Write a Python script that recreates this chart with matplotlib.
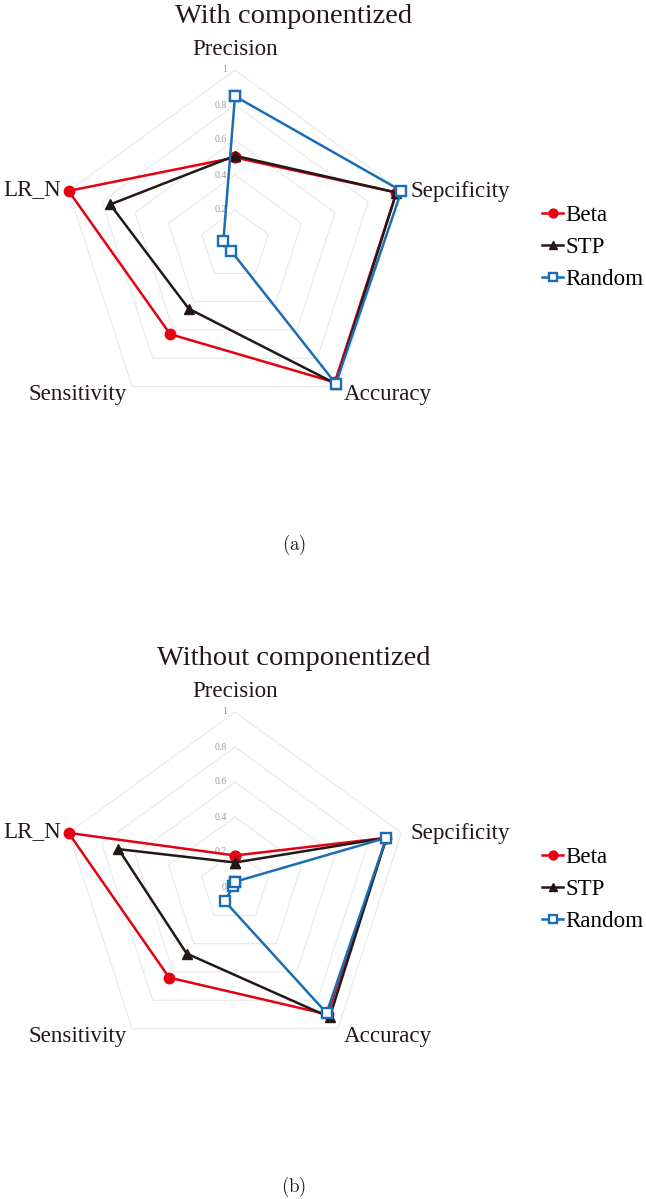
# Radar charts: with / without componentized
import numpy as np
import matplotlib
matplotlib.use('Agg')
import matplotlib.pyplot as plt

plt.rcParams['font.family'] = ['Liberation Serif', 'DejaVu Serif']
plt.rcParams['mathtext.fontset'] = 'cm'

# Data
categories = ['Precision', 'Sepcificity', 'Accuracy', 'Sensitivity', 'LR_N']
series_names = ['Beta', 'STP', 'Random']
levels = [0.2, 0.4, 0.6, 0.8, 1.0]
level_labels = ['0', '0.2', '0.4', '0.6', '0.8', '1']

with_beta = [0.50, 0.97, 0.97, 0.63, 1.00]
with_stp = [0.51, 0.97, 0.98, 0.45, 0.75]
with_random = [0.85, 1.00, 0.98, 0.04, 0.07]

without_beta = [0.18, 0.91, 0.90, 0.64, 1.00]
without_stp = [0.14, 0.91, 0.92, 0.47, 0.70]
without_random = [0.03, 0.91, 0.89, 0.10, 0.01]

titles = ['With componentized', 'Without componentized']
captions = ['(a)', '(b)']

W, H = 646, 1199
colors = ['#e50012', '#231815', '#1b6db5']
markers = ['o', '^', 's']

# label offsets (pixels) from each axis end
label_offsets = {
    'Precision': ((0, 15), 'center'),
    'Sepcificity': ((9, -6), 'left'),
    'Accuracy': ((6, -13), 'left'),
    'Sensitivity': ((-5, -13), 'right'),
    'LR_N': ((-8, -4), 'right'),
}


def radar(fig, y0, title, caption, data):
    cx, cy, rad = 235, 245 + y0, 175
    ax = fig.add_axes([(cx - rad) / W, 1 - (cy + rad) / H, 2 * rad / W, 2 * rad / H],
                      projection='polar')
    ax.set_theta_offset(np.pi / 2)
    ax.set_theta_direction(-1)
    ax.set_ylim(0, 1)
    ax.set_xticks([])
    ax.set_yticks([])
    ax.grid(False)
    ax.spines['polar'].set_visible(False)
    ax.patch.set_alpha(0)

    n = len(categories)
    angles = [2 * np.pi * i / n for i in range(n)]
    closed = angles + angles[:1]

    # pentagon grid
    for lev in levels:
        ax.plot(closed, [lev] * (n + 1), color='#e8e8e8', lw=0.8, zorder=1)
    for lev, lab in zip([0] + levels, level_labels):
        ax.annotate(lab, xy=(0, lev), xytext=(-8, 0), textcoords='offset pixels',
                    ha='right', va='center', fontsize=7, color='#999999')

    # series
    for vals, name, c, m in zip(data, series_names, colors, markers):
        v = list(vals) + [vals[0]]
        if m == 's':
            ax.plot(closed, v, color=c, lw=1.8, marker=m, markersize=7.5,
                    markerfacecolor='white', markeredgecolor=c, markeredgewidth=1.7,
                    label=name, zorder=3, clip_on=False)
        else:
            ax.plot(closed, v, color=c, lw=1.8, marker=m, markersize=7.5,
                    label=name, zorder=3, clip_on=False)

    # axis labels
    for a, cat in zip(angles, categories):
        off, ha = label_offsets[cat]
        ax.annotate(cat, xy=(a, 1.0), xytext=off, textcoords='offset pixels',
                    ha=ha, va='baseline', fontsize=16.6, color='#231815')

    fig.text(294 / W, 1 - (23 + y0) / H, title, ha='center', va='baseline',
             fontsize=20.5, color='#231815')
    fig.text(294 / W, 1 - (545 + y0) / H, r'$\mathrm{' + caption + '}$', ha='center',
             va='center', fontsize=13.5, color='#231815')

    ax.legend(loc='upper left', bbox_to_anchor=(542 / W, 1 - (205 + y0) / H),
              bbox_transform=fig.transFigure, frameon=False, fontsize=16.6,
              handlelength=0.92, handletextpad=0.1, labelspacing=0.46,
              borderpad=0, borderaxespad=0, markerscale=0.85)
    return ax


def main():
    fig = plt.figure(figsize=(W / 100, H / 100), dpi=100)
    radar(fig, 0, titles[0], captions[0], [with_beta, with_stp, with_random])
    radar(fig, 642, titles[1], captions[1], [without_beta, without_stp, without_random])
    fig.savefig('out.png', dpi=100)


main()
